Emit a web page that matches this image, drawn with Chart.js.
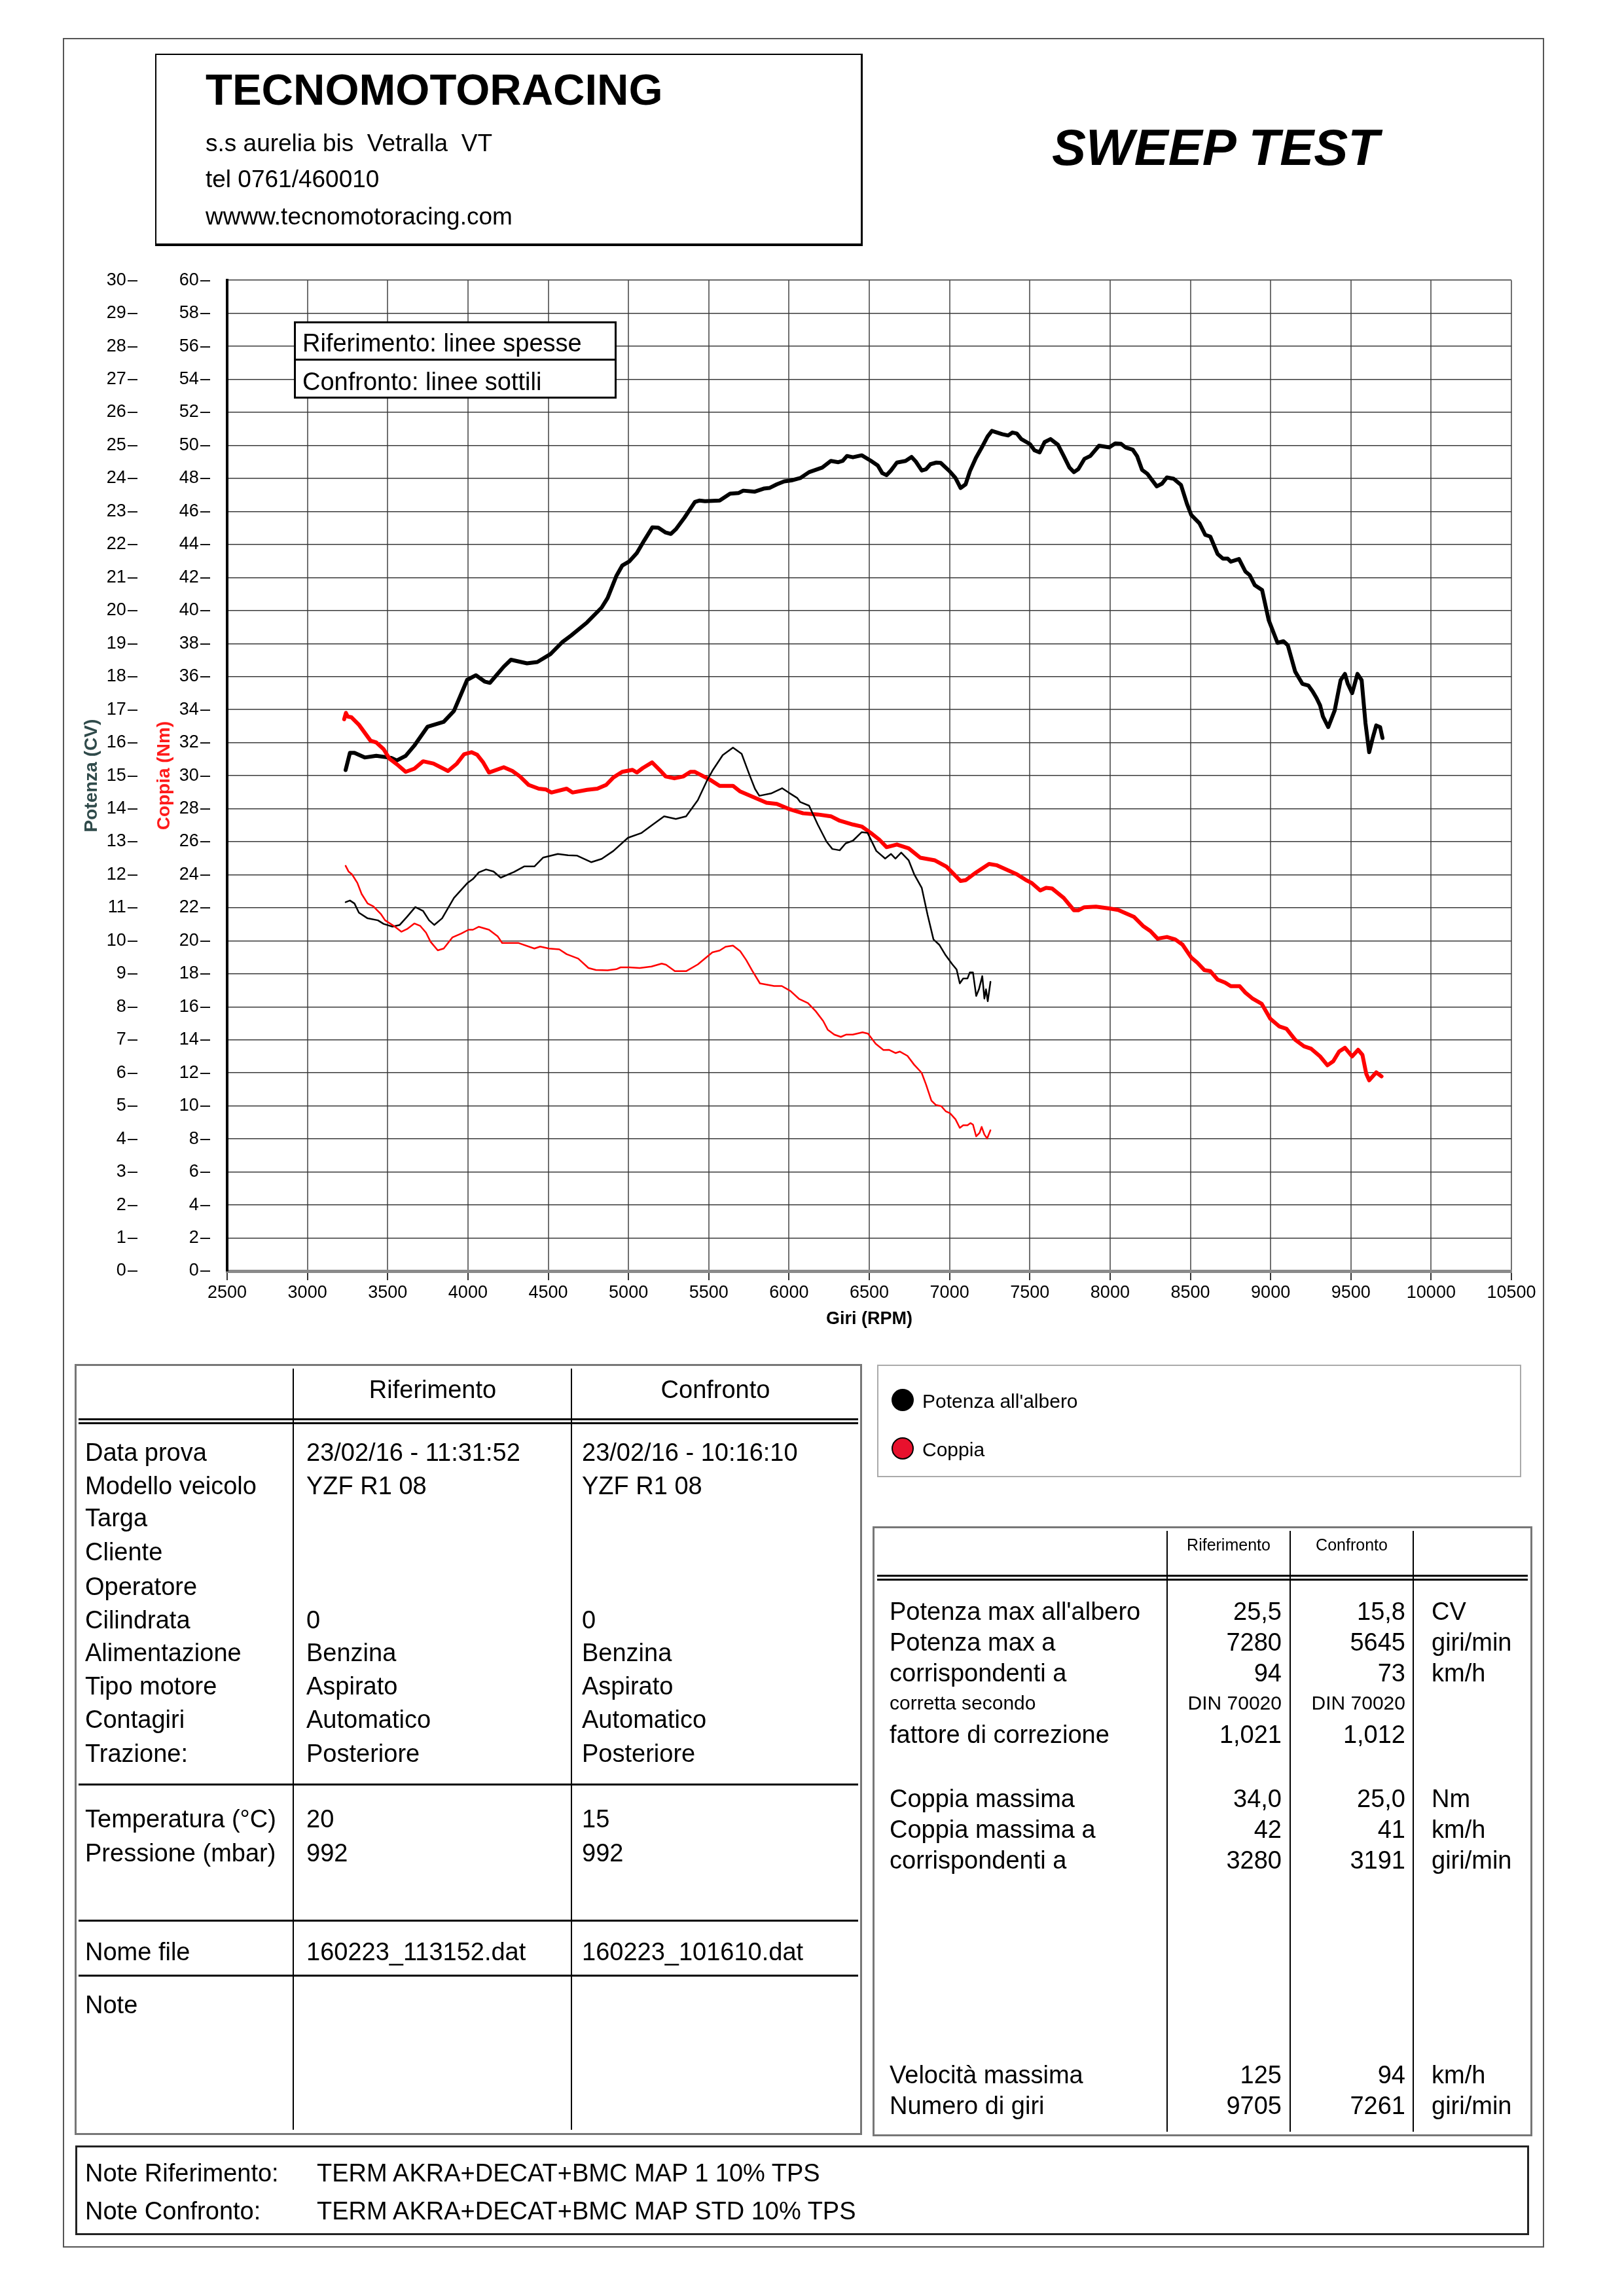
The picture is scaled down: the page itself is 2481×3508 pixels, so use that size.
<!DOCTYPE html>
<html>
<head>
<meta charset="utf-8">
<script src="https://cdn.jsdelivr.net/npm/chart.js"></script>
<style>
  html, body { margin:0; padding:0; background:#fff; }
  #page { position:relative; width:2481px; height:3508px; overflow:hidden; font-family:'Liberation Sans', Arial, sans-serif; color:#000; }
  .t { position:absolute; line-height:0; white-space:pre; }
  .ln { position:absolute; background:#000; }
  .box { position:absolute; box-sizing:border-box; }
  #chart { position:absolute; left:96px; top:386px; }
</style>
</head>
<body>
<div id="page">
  <canvas id="chart" width="2263" height="1664" style="width:2263px;height:1664px"></canvas>
</div>
<script>
// --- valori ---
const rpmTicks = [2500,3000,3500,4000,4500,5000,5500,6000,6500,7000,7500,8000,8500,9000,9500,10000,10500];
const cvTicks = [0,1,2,3,4,5,6,7,8,9,10,11,12,13,14,15,16,17,18,19,20,21,22,23,24,25,26,27,28,29,30];
const nmTicks = [0,2,4,6,8,10,12,14,16,18,20,22,24,26,28,30,32,34,36,38,40,42,44,46,48,50,52,54,56,58,60];

// riferimento (linee spesse): [giri, CV]
const refPower = [[3238,15.17],[3265,15.69],[3293,15.69],[3357,15.55],[3429,15.6],[3520,15.54],[3557,15.46],[3612,15.6],[3666,15.91],[3748,16.48],[3849,16.63],[3913,16.96],[3995,17.9],[4050,18.04],[4104,17.85],[4137,17.81],[4223,18.3],[4268,18.51],[4368,18.4],[4432,18.44],[4514,18.68],[4587,19.04],[4642,19.24],[4742,19.64],[4833,20.09],[4870,20.38],[4924,21.04],[4961,21.36],[5006,21.49],[5052,21.74],[5098,22.12],[5149,22.52],[5186,22.51],[5232,22.36],[5264,22.32],[5295,22.46],[5350,22.82],[5414,23.29],[5441,23.33],[5477,23.31],[5568,23.33],[5633,23.54],[5687,23.56],[5715,23.63],[5787,23.6],[5842,23.69],[5878,23.71],[5924,23.82],[5970,23.91],[6015,23.94],[6070,24.01],[6125,24.19],[6207,24.33],[6261,24.53],[6307,24.49],[6334,24.53],[6361,24.68],[6398,24.64],[6453,24.7],[6508,24.54],[6553,24.39],[6581,24.16],[6608,24.1],[6635,24.24],[6672,24.48],[6726,24.53],[6763,24.65],[6790,24.51],[6827,24.24],[6854,24.28],[6881,24.43],[6918,24.48],[6945,24.47],[7000,24.22],[7036,24.02],[7069,23.71],[7100,23.82],[7127,24.22],[7164,24.62],[7200,24.93],[7237,25.27],[7264,25.44],[7328,25.34],[7365,25.3],[7392,25.39],[7419,25.36],[7447,25.19],[7501,25.04],[7529,24.85],[7561,24.79],[7592,25.1],[7629,25.19],[7675,25.02],[7711,24.68],[7747,24.33],[7775,24.19],[7802,24.28],[7840,24.59],[7877,24.68],[7931,24.99],[7995,24.94],[8032,25.06],[8068,25.05],[8096,24.94],[8141,24.87],[8169,24.67],[8199,24.26],[8232,24.14],[8291,23.76],[8323,23.84],[8354,24.03],[8396,23.99],[8442,23.8],[8479,23.23],[8506,22.89],[8557,22.64],[8593,22.29],[8624,22.24],[8670,21.71],[8703,21.57],[8733,21.57],[8752,21.48],[8803,21.56],[8843,21.18],[8870,21.07],[8901,20.77],[8947,20.62],[8988,19.71],[9043,19.02],[9080,19.07],[9107,18.95],[9153,18.15],[9198,17.78],[9235,17.73],[9262,17.55],[9286,17.35],[9308,17.13],[9326,16.79],[9359,16.47],[9399,16.97],[9436,17.89],[9463,18.08],[9481,17.78],[9508,17.5],[9541,18.08],[9567,17.89],[9591,16.59],[9614,15.71],[9636,16.14],[9658,16.52],[9682,16.47],[9697,16.14]];

// riferimento: [giri, Nm]
const refTorque = [[3229,33.42],[3240,33.8],[3251,33.58],[3275,33.53],[3321,33.08],[3393,32.12],[3429,32.01],[3475,31.6],[3511,31.03],[3566,30.62],[3612,30.23],[3666,30.42],[3721,30.87],[3785,30.73],[3876,30.28],[3931,30.73],[3976,31.3],[4022,31.42],[4058,31.26],[4095,30.8],[4131,30.19],[4223,30.51],[4277,30.28],[4323,29.96],[4378,29.44],[4441,29.21],[4487,29.16],[4520,28.98],[4615,29.21],[4651,28.98],[4742,29.14],[4806,29.21],[4861,29.44],[4906,29.89],[4961,30.23],[5025,30.35],[5052,30.19],[5089,30.46],[5147,30.8],[5195,30.34],[5232,29.95],[5286,29.84],[5341,29.95],[5386,30.23],[5414,30.23],[5505,29.77],[5568,29.38],[5651,29.38],[5696,29.04],[5860,28.36],[5924,28.29],[5997,27.99],[6088,27.72],[6179,27.65],[6261,27.54],[6316,27.27],[6398,27.04],[6453,26.92],[6508,26.54],[6562,26.13],[6608,25.67],[6672,25.83],[6745,25.6],[6818,25.03],[6909,24.87],[6981,24.49],[7069,23.62],[7100,23.67],[7164,24.13],[7246,24.65],[7292,24.58],[7419,24.03],[7474,23.69],[7510,23.51],[7565,23.05],[7601,23.21],[7638,23.17],[7711,22.6],[7775,21.85],[7802,21.85],[7839,22.03],[7912,22.07],[7995,21.96],[8050,21.87],[8087,21.71],[8150,21.44],[8205,20.9],[8251,20.59],[8296,20.13],[8354,20.23],[8406,20.08],[8451,19.77],[8506,18.98],[8543,18.68],[8588,18.22],[8624,18.16],[8670,17.65],[8716,17.47],[8752,17.25],[8807,17.25],[8843,16.86],[8889,16.49],[8944,16.19],[8998,15.28],[9053,14.82],[9099,14.67],[9153,14.01],[9208,13.61],[9253,13.46],[9308,13.0],[9354,12.46],[9390,12.7],[9427,13.3],[9463,13.52],[9508,13.0],[9545,13.4],[9572,13.09],[9596,11.94],[9614,11.55],[9658,12.03],[9691,11.79]];

// confronto (linee sottili): [giri, CV]
const cmpPower = [[3238,11.17],[3265,11.22],[3293,11.13],[3321,10.85],[3375,10.68],[3439,10.62],[3475,10.51],[3530,10.43],[3575,10.48],[3621,10.73],[3672,11.02],[3721,10.9],[3758,10.62],[3790,10.48],[3839,10.68],[3913,11.3],[3995,11.74],[4031,11.87],[4068,12.07],[4113,12.16],[4159,12.1],[4204,11.91],[4286,12.08],[4350,12.25],[4414,12.25],[4469,12.52],[4560,12.63],[4624,12.59],[4678,12.58],[4769,12.38],[4833,12.48],[4906,12.72],[4997,13.12],[5079,13.26],[5152,13.52],[5222,13.77],[5295,13.69],[5359,13.77],[5432,14.26],[5487,14.83],[5523,15.15],[5587,15.62],[5651,15.85],[5705,15.66],[5751,15.06],[5788,14.6],[5815,14.39],[5888,14.46],[5957,14.62],[5997,14.49],[6052,14.32],[6070,14.2],[6125,14.09],[6179,13.52],[6234,13.0],[6270,12.78],[6316,12.74],[6353,12.95],[6398,13.03],[6453,13.29],[6489,13.27],[6544,12.72],[6599,12.49],[6635,12.63],[6663,12.49],[6699,12.67],[6745,12.44],[6781,12.0],[6827,11.6],[6863,10.79],[6900,10.04],[6936,9.88],[6976,9.56],[7017,9.29],[7044,9.13],[7064,8.71],[7085,8.86],[7112,8.86],[7126,9.04],[7146,9.04],[7166,8.33],[7183,8.53],[7204,8.93],[7217,8.25],[7227,8.53],[7238,8.17],[7255,8.76]];

// confronto: [giri, Nm]
const cmpTorque = [[3238,24.54],[3256,24.2],[3278,24.02],[3311,23.51],[3338,22.83],[3375,22.26],[3411,22.08],[3457,21.63],[3484,21.24],[3539,20.9],[3585,20.55],[3621,20.71],[3666,21.05],[3703,20.9],[3739,20.49],[3767,19.94],[3812,19.42],[3849,19.53],[3904,20.21],[3958,20.44],[4004,20.67],[4031,20.67],[4068,20.85],[4131,20.67],[4186,20.26],[4213,19.87],[4313,19.87],[4414,19.53],[4450,19.65],[4505,19.53],[4569,19.48],[4615,19.19],[4687,18.92],[4751,18.35],[4797,18.23],[4870,18.21],[4924,18.28],[4951,18.39],[5006,18.39],[5070,18.35],[5143,18.44],[5207,18.62],[5234,18.55],[5289,18.16],[5359,18.16],[5432,18.57],[5523,19.3],[5568,19.41],[5605,19.64],[5651,19.71],[5696,19.37],[5733,18.84],[5771,18.19],[5819,17.42],[5907,17.26],[5955,17.26],[6009,16.96],[6064,16.47],[6118,16.23],[6166,15.74],[6213,15.14],[6241,14.62],[6282,14.32],[6323,14.18],[6357,14.32],[6397,14.32],[6458,14.46],[6492,14.38],[6540,13.76],[6588,13.39],[6622,13.4],[6663,13.2],[6690,13.29],[6738,13.03],[6779,12.5],[6826,12.01],[6853,11.31],[6887,10.32],[6914,10.06],[6948,9.99],[6976,9.68],[7003,9.56],[7037,9.19],[7064,8.67],[7085,8.83],[7112,8.83],[7130,8.96],[7146,8.87],[7166,8.16],[7187,8.37],[7200,8.73],[7217,8.27],[7234,8.03],[7255,8.53]];

const page = document.getElementById('page');

// testo con la linea di base in y (metriche Liberation Sans)
function txt(x, y, s, size, align, style) {
  const d = document.createElement('div');
  d.className = 't';
  d.textContent = s;
  d.style.fontSize = size + 'px';
  d.style.top = (y - 0.3465 * size) + 'px';
  if (style && style.indexOf('bold') >= 0) d.style.fontWeight = 'bold';
  if (style && style.indexOf('italic') >= 0) d.style.fontStyle = 'italic';
  if (align === 'r') d.style.right = (2481 - x) + 'px';
  else if (align === 'c') { d.style.left = x + 'px'; d.style.transform = 'translateX(-50%)'; }
  else d.style.left = x + 'px';
  page.appendChild(d);
  return d;
}
function ln(x, y, w, h, color) {
  const d = document.createElement('div');
  d.className = 'ln';
  d.style.left = x + 'px'; d.style.top = y + 'px';
  d.style.width = w + 'px'; d.style.height = h + 'px';
  if (color) d.style.background = color;
  page.appendChild(d);
}
function box(x, y, w, h, css) {
  const d = document.createElement('div');
  d.className = 'box';
  d.style.left = x + 'px'; d.style.top = y + 'px';
  d.style.width = w + 'px'; d.style.height = h + 'px';
  d.style.cssText += css;
  page.appendChild(d);
  return d;
}

// cornice pagina e intestazione
box(96, 58, 2263, 3376, 'border:2px solid #555;');
box(237, 82, 1081, 294, 'border:2px solid #000;border-bottom-width:4px;border-right-width:3px;');
txt(314, 160, 'TECNOMOTORACING', 67, 'l', 'bold');
txt(314, 232, 's.s aurelia bis  Vetralla  VT', 37);
txt(314, 287, 'tel 0761/460010', 37);
txt(314, 344, 'wwww.tecnomotoracing.com', 37);
txt(1607, 252, 'SWEEP TEST', 78, 'l', 'italic bold');

// grafico
const narrow = "'Liberation Sans Narrow', 'Liberation Sans', Arial, sans-serif";
const toXY = pairs => pairs.map(p => ({x: p[0], y: p[1]}));

new Chart(document.getElementById('chart'), {
  type: 'line',
  data: {
    datasets: [
      {label: 'Coppia confronto', data: toXY(cmpTorque), yAxisID: 'yNm', borderColor: '#ff0000', borderWidth: 2.5},
      {label: 'Potenza confronto', data: toXY(cmpPower), yAxisID: 'yCV', borderColor: '#000000', borderWidth: 2.5},
      {label: 'Coppia riferimento', data: toXY(refTorque), yAxisID: 'yNm', borderColor: '#ff0000', borderWidth: 6},
      {label: 'Potenza riferimento', data: toXY(refPower), yAxisID: 'yCV', borderColor: '#000000', borderWidth: 6}
    ]
  },
  options: {
    responsive: false,
    animation: false,
    elements: {
      point: {radius: 0},
      line: {tension: 0, borderJoinStyle: 'round', borderCapStyle: 'round'}
    },
    layout: {padding: {left: 14, right: 50, top: 0, bottom: 0}},
    plugins: {legend: {display: false}, tooltip: {enabled: false}},
    scales: {
      x: {
        type: 'linear', min: 2500, max: 10500,
        afterBuildTicks: s => { s.ticks = rpmTicks.map(v => ({value: v})); },
        afterFit: s => { s.height = 108; },
        ticks: {color: '#000', padding: 3, autoSkip: false, maxRotation: 0,
                font: {family: narrow, size: 27}, callback: v => String(v)},
        grid: {color: '#707070', lineWidth: 2, tickLength: 14, tickColor: '#333'},
        border: {color: '#8a8a8a', width: 5},
        title: {display: true, text: 'Giri (RPM)', color: '#000',
                font: {family: "'Liberation Sans', Arial, sans-serif", size: 27, weight: 'bold'},
                padding: {top: 0, bottom: 18}}
      },
      yNm: {
        type: 'linear', position: 'left', min: 0, max: 60, weight: 0,
        afterBuildTicks: s => { s.ticks = nmTicks.map(v => ({value: v})); },
        afterFit: s => { s.width = 122; },
        ticks: {color: '#000', padding: 26, font: {family: narrow, size: 27},
                callback: v => v + '\u200A\u2013'},
        grid: {color: '#3a3a3a', lineWidth: 1.5, drawTicks: false},
        border: {color: '#000', width: 4},
        title: {display: true, text: 'Coppia (Nm)', color: '#ff1a1a',
                font: {family: narrow, size: 28, weight: 'bold'}, padding: {top: 9, bottom: 0}}
      },
      yCV: {
        type: 'linear', position: 'left', min: 0, max: 30, weight: 1,
        afterBuildTicks: s => { s.ticks = cvTicks.map(v => ({value: v})); },
        afterFit: s => { s.width = 115; },
        ticks: {color: '#000', padding: 15, font: {family: narrow, size: 27},
                callback: v => v + '\u200A\u2013'},
        grid: {drawOnChartArea: false, drawTicks: false},
        border: {display: false},
        title: {display: true, text: 'Potenza (CV)', color: '#2f4a4a',
                font: {family: narrow, size: 28, weight: 'bold'}, padding: {top: 13, bottom: 0}}
      }
    }
  }
});

// legenda dentro il grafico
box(449, 491, 493, 118, 'border:3px solid #000;background:#fff;');
ln(449, 548, 493, 3);
txt(462, 537, 'Riferimento: linee spesse', 38);
txt(462, 596, 'Confronto: linee sottili', 38);

// legenda colori
box(1340, 2085, 984, 172, 'border:2px solid #aaa;');
box(1362, 2122, 34, 34, 'border-radius:50%;background:#000;');
box(1362, 2196, 34, 34, 'border-radius:50%;background:#e8112d;border:2px solid #000;');
txt(1409, 2151, "Potenza all'albero", 30);
txt(1409, 2225, 'Coppia', 30);

// tabella sinistra
box(114, 2084, 1203, 1178, 'border:3px solid #777;');
ln(447, 2091, 2, 1163);
ln(872, 2091, 2, 1163);
ln(120, 2167, 1191, 3); ln(120, 2173, 1191, 3);
ln(120, 2725, 1191, 3);
ln(120, 2933, 1191, 3);
ln(120, 3017, 1191, 3);
txt(661, 2136, 'Riferimento', 38, 'c');
txt(1093, 2136, 'Confronto', 38, 'c');
const leftRows = [
  [2232, 'Data prova', '23/02/16 - 11:31:52', '23/02/16 - 10:16:10'],
  [2283, 'Modello veicolo', 'YZF R1 08', 'YZF R1 08'],
  [2332, 'Targa', '', ''],
  [2384, 'Cliente', '', ''],
  [2437, 'Operatore', '', ''],
  [2488, 'Cilindrata', '0', '0'],
  [2538, 'Alimentazione', 'Benzina', 'Benzina'],
  [2589, 'Tipo motore', 'Aspirato', 'Aspirato'],
  [2640, 'Contagiri', 'Automatico', 'Automatico'],
  [2692, 'Trazione:', 'Posteriore', 'Posteriore'],
  [2792, 'Temperatura (\u00B0C)', '20', '15'],
  [2844, 'Pressione (mbar)', '992', '992'],
  [2995, 'Nome file', '160223_113152.dat', '160223_101610.dat'],
  [3076, 'Note', '', '']
];
leftRows.forEach(r => {
  txt(130, r[0], r[1], 38);
  if (r[2]) txt(468, r[0], r[2], 38);
  if (r[3]) txt(889, r[0], r[3], 38);
});

// tabella destra
box(1333, 2332, 1008, 932, 'border:3px solid #777;');
ln(1782, 2339, 2, 918);
ln(1970, 2339, 2, 918);
ln(2158, 2339, 2, 918);
ln(1340, 2406, 994, 3); ln(1340, 2412, 994, 3);
txt(1877, 2369, 'Riferimento', 25, 'c');
txt(2065, 2369, 'Confronto', 25, 'c');
const rightRows = [
  [2475, "Potenza max all'albero", '25,5', '15,8', 'CV', 38],
  [2522, 'Potenza max a', '7280', '5645', 'giri/min', 38],
  [2569, 'corrispondenti a', '94', '73', 'km/h', 38],
  [2612, 'corretta secondo', 'DIN 70020', 'DIN 70020', '', 30],
  [2663, 'fattore di correzione', '1,021', '1,012', '', 38],
  [2761, 'Coppia massima', '34,0', '25,0', 'Nm', 38],
  [2808, 'Coppia massima a', '42', '41', 'km/h', 38],
  [2855, 'corrispondenti a', '3280', '3191', 'giri/min', 38],
  [3183, 'Velocit\u00E0 massima', '125', '94', 'km/h', 38],
  [3230, 'Numero di giri', '9705', '7261', 'giri/min', 38]
];
rightRows.forEach(r => {
  txt(1359, r[0], r[1], r[5]);
  txt(1958, r[0], r[2], r[5], 'r');
  txt(2147, r[0], r[3], r[5], 'r');
  if (r[4]) txt(2187, r[0], r[4], 38);
});

// note
box(115, 3278, 2221, 137, 'border:3px solid #222;');
txt(130, 3333, 'Note Riferimento:', 38);
txt(484, 3333, 'TERM AKRA+DECAT+BMC MAP 1 10% TPS', 38);
txt(130, 3391, 'Note Confronto:', 38);
txt(484, 3391, 'TERM AKRA+DECAT+BMC MAP STD 10% TPS', 38);
</script>
</body>
</html>
